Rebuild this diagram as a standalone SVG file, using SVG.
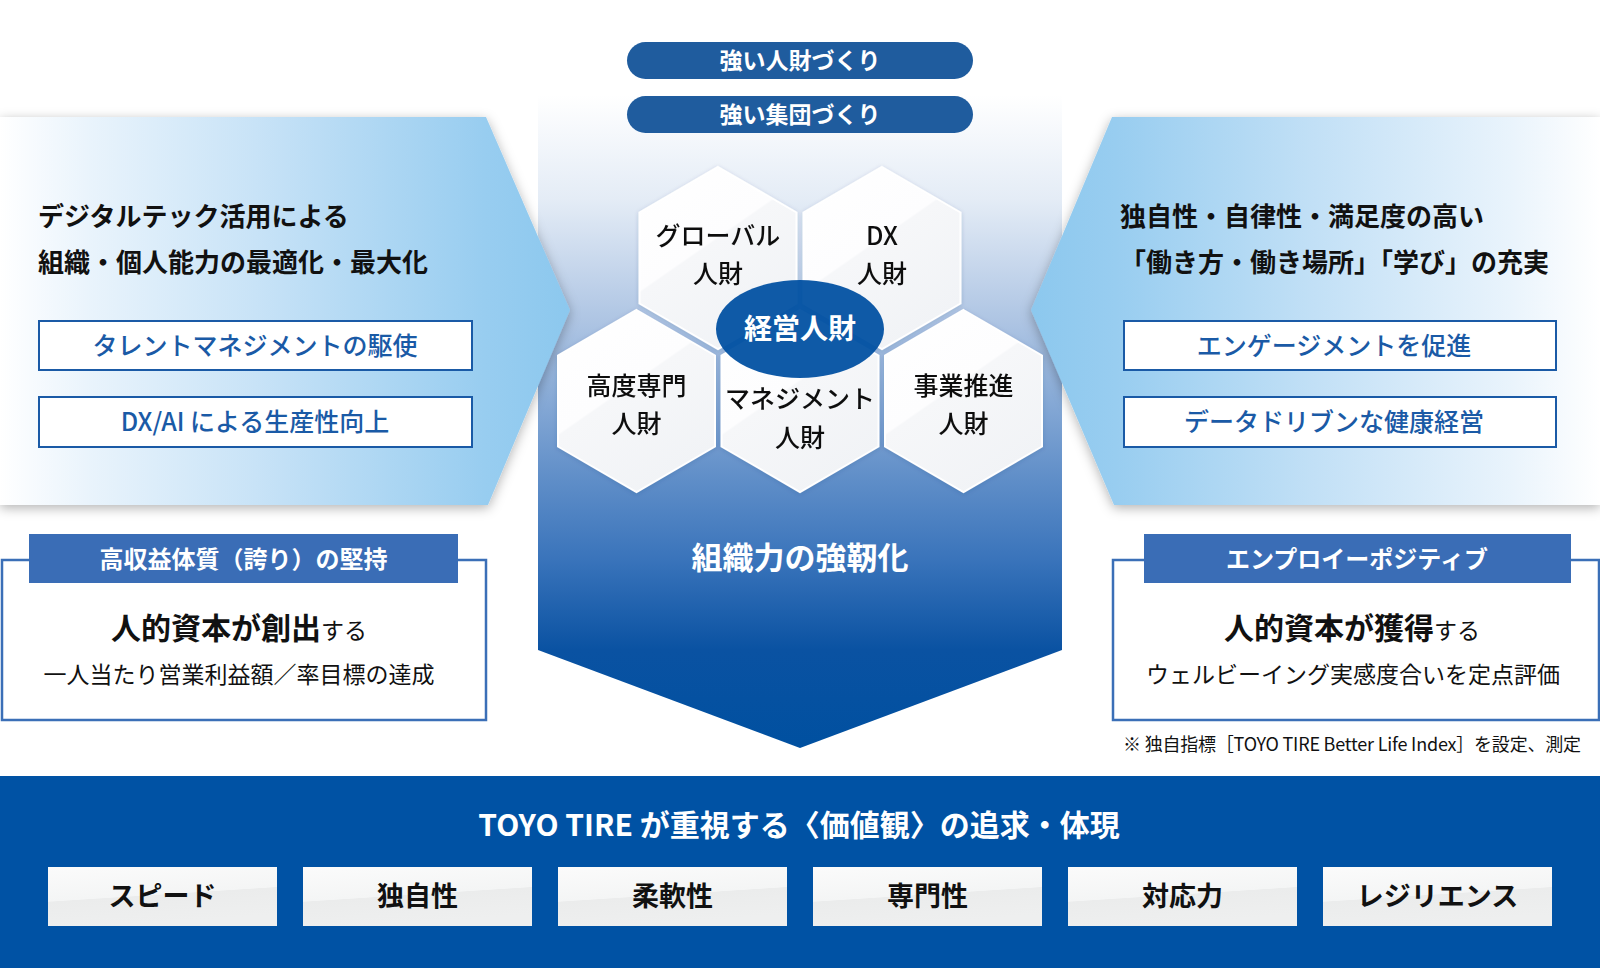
<svg xmlns="http://www.w3.org/2000/svg" width="1600" height="968" viewBox="0 0 1600 968">
<defs>
<style>
text{font-family:'Noto Sans CJK JP','Noto Sans',sans-serif;}
.ttl{font-size:26px;font-weight:700;fill:#111;}
.btxt{font-size:25px;font-weight:500;fill:#1a5aa6;text-anchor:middle;}
.pill{fill:#1f5c9e;}
.ptxt{font-size:23px;font-weight:700;fill:#fff;text-anchor:middle;}
.hex{fill:url(#hexg);stroke:#fff;stroke-width:2;}
.htxt{font-size:25px;font-weight:500;fill:#111;text-anchor:middle;}
.ibox{fill:#fff;stroke:#1a5aa6;stroke-width:2;}
.obox{fill:#fff;stroke:#3b6fb7;stroke-width:2.5;}
.hdr{fill:#3a6db6;}
.htx{font-size:24px;font-weight:700;fill:#fff;text-anchor:middle;}
.big{font-size:30px;font-weight:700;fill:#111;}
.sm{font-size:23px;font-weight:400;fill:#111;}
.vbox{fill:url(#vg);}
.vtxt{font-size:27px;font-weight:700;fill:#111;text-anchor:middle;}
</style>
<linearGradient id="colg" gradientUnits="userSpaceOnUse" x1="0" y1="95" x2="0" y2="748">
<stop offset="0" stop-color="#ffffff"/>
<stop offset="0.16" stop-color="#e4ecf6"/>
<stop offset="0.36" stop-color="#aac2e2"/>
<stop offset="0.57" stop-color="#6592ca"/>
<stop offset="0.71" stop-color="#3a74bb"/>
<stop offset="0.85" stop-color="#0a52a2"/>
<stop offset="1" stop-color="#0050a0"/>
</linearGradient>
<linearGradient id="lg" gradientUnits="userSpaceOnUse" x1="0" y1="0" x2="570" y2="0">
<stop offset="0" stop-color="#ffffff"/>
<stop offset="0.15" stop-color="#eaf4fc"/>
<stop offset="0.5" stop-color="#c2e0f6"/>
<stop offset="0.85" stop-color="#98cdf0"/>
<stop offset="1" stop-color="#8cc8ee"/>
</linearGradient>
<linearGradient id="rg" gradientUnits="userSpaceOnUse" x1="1600" y1="0" x2="1030" y2="0">
<stop offset="0" stop-color="#ffffff"/>
<stop offset="0.15" stop-color="#eaf4fc"/>
<stop offset="0.5" stop-color="#c2e0f6"/>
<stop offset="0.85" stop-color="#98cdf0"/>
<stop offset="1" stop-color="#8cc8ee"/>
</linearGradient>
<linearGradient id="hexg" x1="0" y1="0" x2="0.6" y2="1">
<stop offset="0" stop-color="#ffffff"/>
<stop offset="0.5" stop-color="#fdfdfe"/>
<stop offset="0.51" stop-color="#f6f7f9"/>
<stop offset="1" stop-color="#f1f3f6"/>
</linearGradient>
<linearGradient id="vg" x1="0" y1="0" x2="0.25" y2="1">
<stop offset="0" stop-color="#fbfbfb"/>
<stop offset="0.55" stop-color="#f4f5f5"/>
<stop offset="0.56" stop-color="#ebecec"/>
<stop offset="1" stop-color="#eeefef"/>
</linearGradient>
<filter id="sh" x="-5%" y="-10%" width="110%" height="120%">
<feDropShadow dx="0" dy="3" stdDeviation="6" flood-color="#000" flood-opacity="0.3"/>
</filter>
<filter id="hs" x="-10%" y="-10%" width="120%" height="120%">
<feDropShadow dx="0" dy="1" stdDeviation="2" flood-color="#1a3a70" flood-opacity="0.18"/>
</filter>
</defs>

<rect x="0" y="0" width="1600" height="968" fill="#fff"/>

<g id="center-column">
<path d="M538 95 H1062 V650 L800 748 L538 650 Z" fill="url(#colg)"/>
<text x="800" y="569" font-size="31" font-weight="700" fill="#fff" text-anchor="middle">組織力の強靭化</text>
</g>

<g id="left-panel">
<path d="M0 117 H486 L570 310 L488 505 H0 Z" fill="url(#lg)" filter="url(#sh)"/>
<text class="ttl" x="38" y="226">デジタルテック活用による</text>
<text class="ttl" x="38" y="272">組織・個人能力の最適化・最大化</text>
<rect class="ibox" x="39" y="321" width="433" height="49"/>
<text class="btxt" x="255" y="355">タレントマネジメントの駆使</text>
<rect class="ibox" x="39" y="397" width="433" height="50"/>
<text class="btxt" x="255" y="431">DX/AI による生産性向上</text>
</g>

<g id="right-panel">
<path d="M1600 117 H1112 L1031 310 L1114 505 H1600 Z" fill="url(#rg)" filter="url(#sh)"/>
<text class="ttl" x="1120" y="226">独自性・自律性・満足度の高い</text>
<text class="ttl" x="1120" y="272">「働き方・働き場所」「学び」の充実</text>
<rect class="ibox" x="1124" y="321" width="432" height="49"/>
<text class="btxt" x="1334" y="355">エンゲージメントを促進</text>
<rect class="ibox" x="1124" y="397" width="432" height="50"/>
<text class="btxt" x="1334" y="431">データドリブンな健康経営</text>
</g>

<g id="pill-jinzai">
<rect class="pill" x="627" y="42" width="346" height="37" rx="18.5"/>
<text class="ptxt" x="800" y="69">強い人財づくり</text>
</g>
<g id="pill-shudan">
<rect class="pill" x="627" y="96" width="346" height="37" rx="18.5"/>
<text class="ptxt" x="800" y="123">強い集団づくり</text>
</g>

<g id="hex-global" filter="url(#hs)">
<polygon class="hex" points="718,167 796.5,212.5 796.5,303.5 718,349 639.5,303.5 639.5,212.5"/>
<text class="htxt" x="718" y="245">グローバル</text>
<text class="htxt" x="718" y="283">人財</text>
</g>
<g id="hex-dx" filter="url(#hs)">
<polygon class="hex" points="882,167 960.5,212.5 960.5,303.5 882,349 803.5,303.5 803.5,212.5"/>
<text class="htxt" x="882" y="245">DX</text>
<text class="htxt" x="882" y="283">人財</text>
</g>
<g id="hex-senmon" filter="url(#hs)">
<polygon class="hex" points="636.5,310 715,355.5 715,446.5 636.5,492 558,446.5 558,355.5"/>
<text class="htxt" x="636.5" y="395">高度専門</text>
<text class="htxt" x="636.5" y="433">人財</text>
</g>
<g id="hex-management" filter="url(#hs)">
<polygon class="hex" points="800,310 878.5,355.5 878.5,446.5 800,492 721.5,446.5 721.5,355.5"/>
<text class="htxt" x="800" y="408">マネジメント</text>
<text class="htxt" x="800" y="447">人財</text>
</g>
<g id="hex-jigyo" filter="url(#hs)">
<polygon class="hex" points="963.5,310 1042,355.5 1042,446.5 963.5,492 885,446.5 885,355.5"/>
<text class="htxt" x="963.5" y="395">事業推進</text>
<text class="htxt" x="963.5" y="433">人財</text>
</g>
<g id="keiei">
<ellipse cx="800" cy="329" rx="84" ry="49" fill="#0050a2" fill-opacity="0.94"/>
<text x="800" y="339" font-size="28" font-weight="700" fill="#fff" text-anchor="middle">経営人財</text>
</g>

<g id="box-left">
<rect class="obox" x="2" y="560" width="484" height="160"/>
<rect class="hdr" x="29" y="534" width="429" height="49"/>
<text class="htx" x="243.5" y="568">高収益体質（誇り）の堅持</text>
<text x="239" y="639" text-anchor="middle"><tspan class="big">人的資本が創出</tspan><tspan class="sm">する</tspan></text>
<text class="sm" x="239" y="683" text-anchor="middle">一人当たり営業利益額／率目標の達成</text>
</g>

<g id="box-right">
<rect class="obox" x="1113" y="560" width="486" height="160"/>
<rect class="hdr" x="1144" y="534" width="427" height="49"/>
<text class="htx" x="1357" y="568">エンプロイーポジティブ</text>
<text x="1352" y="639" text-anchor="middle"><tspan class="big">人的資本が獲得</tspan><tspan class="sm">する</tspan></text>
<text class="sm" x="1353" y="683" text-anchor="middle">ウェルビーイング実感度合いを定点評価</text>
<text x="1123" y="751" font-size="18" fill="#111" textLength="458">※ 独自指標［TOYO TIRE Better Life Index］を設定、測定</text>
</g>

<g id="values">
<rect x="0" y="776" width="1600" height="192" fill="#0052a4"/>
<text x="799" y="836" font-size="30" font-weight="700" fill="#fff" text-anchor="middle">TOYO TIRE が重視する〈価値観〉の追求・体現</text>
<g id="v-speed"><rect class="vbox" x="48" y="867" width="229" height="59"/><text class="vtxt" x="162.5" y="906">スピード</text></g>
<g id="v-dokuji"><rect class="vbox" x="303" y="867" width="229" height="59"/><text class="vtxt" x="417.5" y="906">独自性</text></g>
<g id="v-junan"><rect class="vbox" x="558" y="867" width="229" height="59"/><text class="vtxt" x="672.5" y="906">柔軟性</text></g>
<g id="v-senmon"><rect class="vbox" x="813" y="867" width="229" height="59"/><text class="vtxt" x="927.5" y="906">専門性</text></g>
<g id="v-taio"><rect class="vbox" x="1068" y="867" width="229" height="59"/><text class="vtxt" x="1182.5" y="906">対応力</text></g>
<g id="v-resilience"><rect class="vbox" x="1323" y="867" width="229" height="59"/><text class="vtxt" x="1437.5" y="906">レジリエンス</text></g>
</g>
<g id="connectors"/>
</svg>
